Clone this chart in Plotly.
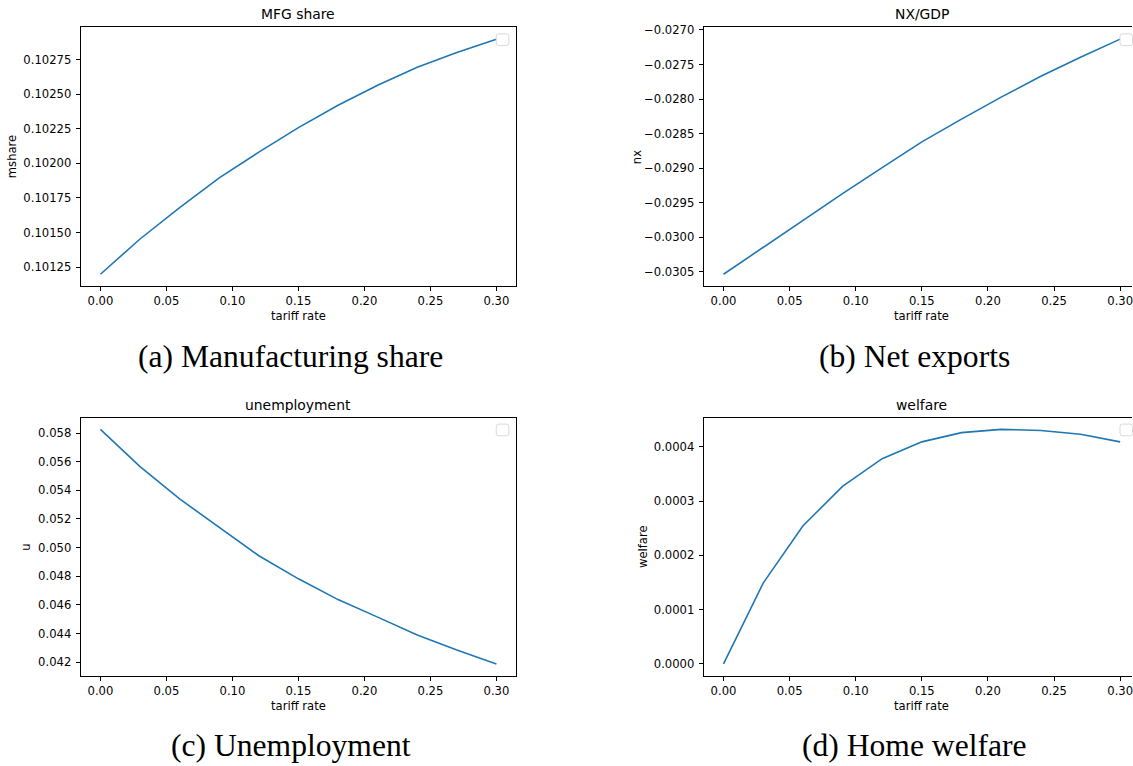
import plotly.graph_objects as go

# ---------------- data ----------------
tariff = [0.00, 0.03, 0.06, 0.09, 0.12, 0.15, 0.18, 0.21, 0.24, 0.27, 0.30]
mshare = [0.101198, 0.101453, 0.10168, 0.101895, 0.102081, 0.102258,
          0.10242, 0.102564, 0.102695, 0.102802, 0.102898]
nx_gdp = [-0.030533, -0.030141, -0.029751, -0.029366, -0.02899, -0.028619,
          -0.02829, -0.027971, -0.027671, -0.027396, -0.027133]
unemp = [0.058256, 0.055651, 0.0534, 0.051396, 0.049434, 0.047824,
         0.046374, 0.045151, 0.043908, 0.042851, 0.041883]
welfare = [0.0, 0.000149, 0.000254, 0.000327, 0.000378, 0.000409,
           0.000426, 0.000432, 0.00043, 0.000423, 0.000409]

x_ticks = [0.00, 0.05, 0.10, 0.15, 0.20, 0.25, 0.30]
x_tick_text = ["0.00", "0.05", "0.10", "0.15", "0.20", "0.25", "0.30"]
a_ticks = [0.10125, 0.10150, 0.10175, 0.10200, 0.10225, 0.10250, 0.10275]
a_tick_text = ["0.10125", "0.10150", "0.10175", "0.10200", "0.10225", "0.10250", "0.10275"]
b_ticks = [-0.0305, -0.0300, -0.0295, -0.0290, -0.0285, -0.0280, -0.0275, -0.0270]
b_tick_text = ["\u22120.0305", "\u22120.0300", "\u22120.0295", "\u22120.0290",
               "\u22120.0285", "\u22120.0280", "\u22120.0275", "\u22120.0270"]
c_ticks = [0.042, 0.044, 0.046, 0.048, 0.050, 0.052, 0.054, 0.056, 0.058]
c_tick_text = ["0.042", "0.044", "0.046", "0.048", "0.050", "0.052", "0.054", "0.056", "0.058"]
d_ticks = [0.0, 0.0001, 0.0002, 0.0003, 0.0004]
d_tick_text = ["0.0000", "0.0001", "0.0002", "0.0003", "0.0004"]

titles = ["MFG share", "NX/GDP", "unemployment", "welfare"]
ylabels = ["mshare", "nx", "u", "welfare"]
xlabel = "tariff rate"
captions = ["(a) Manufacturing share", "(b) Net exports", "(c) Unemployment", "(d) Home welfare"]

# ---------------- layout helpers ----------------
W, H = 1133, 766
OFFY = 2.5  # small residual vertical offset of the plot div in the page
def px(x):
    return x / W
def py(y):
    return 1 - (y - OFFY) / H

def padded(vals):
    lo, hi = min(vals), max(vals)
    p = (hi - lo) * 0.05
    return [lo - p, hi + p]

BLUE = "#1f77b4"
FONT = "DejaVu Sans"
TICKF = 11.6

fig = go.Figure()

# panel geometry (window pixels): left, right, top, bottom
panels = [
    dict(l=80.7, r=516.7, t=26.0, b=286.0, full_r=516.7),
    dict(l=704.3, r=1133.0, t=26.0, b=286.0, full_r=1141.0),
    dict(l=80.7, r=516.7, t=418.3, b=677.7, full_r=516.7),
    dict(l=704.3, r=1133.0, t=418.3, b=677.7, full_r=1141.0),
]
series = [mshare, nx_gdp, unemp, welfare]
yticks = [(a_ticks, a_tick_text), (b_ticks, b_tick_text), (c_ticks, c_tick_text), (d_ticks, d_tick_text)]
ylabel_x = [11.5, 637.0, 26.0, 643.0]
caption_pos = [(291, 357), (915.5, 357), (291, 748), (915.5, 748)]

annotations = []
shapes = []
for i, (pn, ys) in enumerate(zip(panels, series)):
    n = "" if i == 0 else str(i + 1)
    xa, ya = "xaxis" + n, "yaxis" + n
    fig.add_trace(go.Scatter(x=tariff, y=ys, mode="lines",
                             line=dict(color=BLUE, width=1.6),
                             xaxis="x" + n, yaxis="y" + n, showlegend=False,
                             hoverinfo="skip"))
    full = [-0.015, 0.315]
    frac = (pn["r"] - pn["l"]) / (pn["full_r"] - pn["l"])
    xr = [full[0], full[0] + frac * (full[1] - full[0])]
    clipped = pn["full_r"] > pn["r"]
    fig.update_layout(**{
        xa: dict(domain=[px(pn["l"]), px(pn["r"])], anchor="y" + n, range=xr,
                 tickvals=x_ticks, ticktext=x_tick_text, ticks="outside", ticklen=4,
                 tickwidth=1, tickcolor="black", showline=True, linecolor="black",
                 linewidth=1, mirror=True, showgrid=False, zeroline=False,
                 ticklabeloverflow="allow",
                 tickfont=dict(family=FONT, size=TICKF, color="black"), fixedrange=True),
        ya: dict(domain=[py(pn["b"]), py(pn["t"])], anchor="x" + n, range=padded(ys),
                 tickvals=yticks[i][0], ticktext=yticks[i][1], ticks="outside", ticklen=4,
                 tickwidth=1, tickcolor="black", showline=True, linecolor="black",
                 linewidth=1, mirror=(not clipped), showgrid=False, zeroline=False,
                 ticklabelstandoff=2,
                 tickfont=dict(family=FONT, size=TICKF, color="black"), fixedrange=True),
    })
    cx = (pn["l"] + pn["full_r"]) / 2
    annotations.append(dict(text=titles[i], x=px(cx), y=py(pn["t"] - 13), xref="paper", yref="paper",
                            xanchor="center", yanchor="middle", showarrow=False,
                            font=dict(family=FONT, size=13.9, color="black")))
    annotations.append(dict(text=xlabel, x=px(cx), y=py(pn["b"] + 30), xref="paper", yref="paper",
                            xanchor="center", yanchor="middle", showarrow=False,
                            font=dict(family=FONT, size=TICKF, color="black")))
    annotations.append(dict(text=ylabels[i], x=px(ylabel_x[i]), y=py((pn["t"] + pn["b"]) / 2),
                            xref="paper", yref="paper", xanchor="center", yanchor="middle",
                            textangle=-90, showarrow=False,
                            font=dict(family=FONT, size=TICKF, color="black")))
    annotations.append(dict(text=captions[i], x=px(caption_pos[i][0]), y=py(caption_pos[i][1]),
                            xref="paper", yref="paper", xanchor="center", yanchor="middle",
                            showarrow=False,
                            font=dict(family="Liberation Serif", size=31.6, color="black")))
    # empty legend box (top-right corner)
    bx0 = pn["full_r"] - 20.0
    bx1 = bx0 + 12.6
    by0 = pn["t"] + 6.5
    by1 = by0 + 11.8
    r = 2.5
    path = (f"M {px(bx0 + r)},{py(by0)} L {px(bx1 - r)},{py(by0)} "
            f"Q {px(bx1)},{py(by0)} {px(bx1)},{py(by0 + r)} L {px(bx1)},{py(by1 - r)} "
            f"Q {px(bx1)},{py(by1)} {px(bx1 - r)},{py(by1)} L {px(bx0 + r)},{py(by1)} "
            f"Q {px(bx0)},{py(by1)} {px(bx0)},{py(by1 - r)} L {px(bx0)},{py(by0 + r)} "
            f"Q {px(bx0)},{py(by0)} {px(bx0 + r)},{py(by0)} Z")
    shapes.append(dict(type="path", path=path, xref="paper", yref="paper",
                       line=dict(color="#d9d9d9", width=1), fillcolor="rgba(255,255,255,0.8)",
                       layer="above"))

fig.update_layout(width=W, height=H, autosize=False,
                  margin=dict(l=0, r=0, t=0, b=0, pad=0),
                  paper_bgcolor="white", plot_bgcolor="white",
                  annotations=annotations, shapes=shapes, showlegend=False)

post = ("document.body.style.margin='0';"
        "document.body.style.overflow='hidden';"
        "document.documentElement.style.overflow='hidden';")
fig.write_html("out.html", config={"displayModeBar": False}, post_script=post)
